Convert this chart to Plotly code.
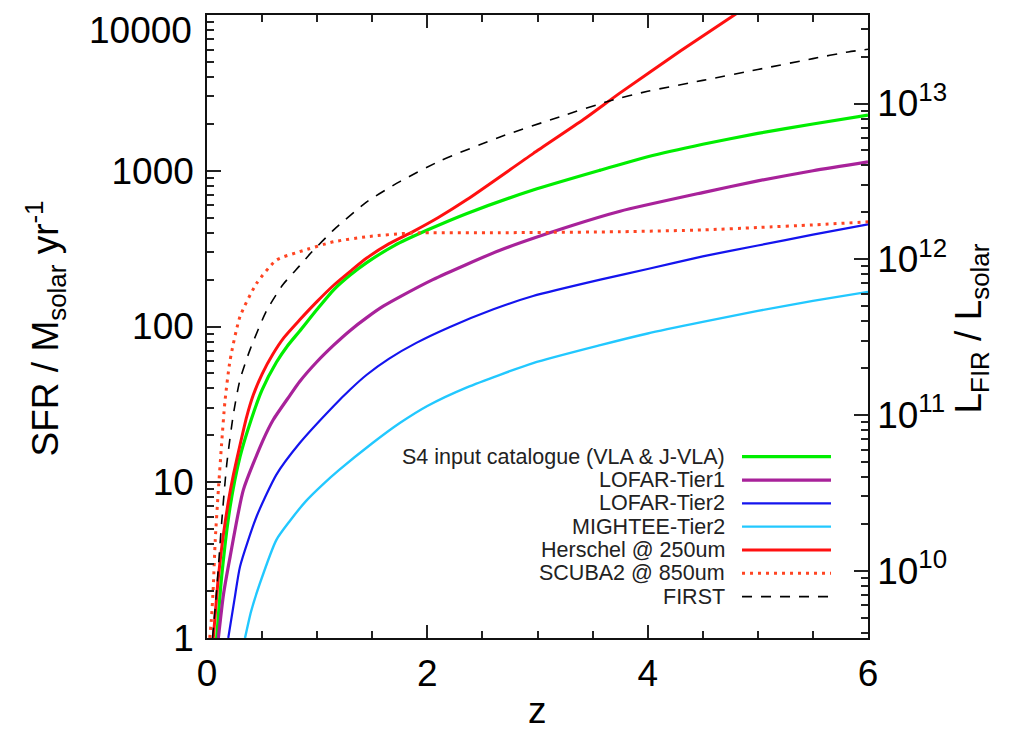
import math
import plotly.graph_objects as go

# ---------------- data ----------------
Z_S4 = [0.088, 0.133, 0.21, 0.30, 0.40, 0.50, 0.63, 0.73, 0.84, 1.0, 1.15, 1.3, 1.45, 1.7, 2.0, 2.36, 2.96, 3.57, 4.0, 4.5, 5.0, 5.5, 6.0]
SFR_S4 = [1.0, 2.48, 6.98, 14.6, 25.1, 39.2, 58.9, 75.0, 93.3, 129, 172, 214, 257, 331, 416, 532, 752, 1009, 1230, 1479, 1738, 1995, 2275]

Z_T1 = [0.103, 0.15, 0.21, 0.33, 0.51, 0.60, 0.75, 0.84, 1.0, 1.15, 1.3, 1.45, 1.6, 1.75, 2.05, 2.66, 3.3, 3.75, 4.5, 5.0, 5.5, 6.0]
SFR_T1 = [1.0, 1.91, 3.33, 8.93, 18.7, 25.1, 35.9, 44.2, 59.6, 75.9, 94.4, 114, 135, 155, 200, 309, 442, 550, 724, 861, 1000, 1140]

Z_T2 = [0.193, 0.25, 0.30, 0.45, 0.63, 0.84, 1.15, 1.3, 1.45, 1.65, 1.9, 2.2, 2.6, 2.96, 3.57, 4.0, 4.5, 5.0, 5.5, 6.0]
SFR_T2 = [1.0, 1.78, 2.88, 6.03, 11.2, 17.8, 30.9, 39.4, 49.0, 62.0, 78.5, 99.0, 129, 157, 200, 234, 282, 331, 389, 453]

Z_MIG = [0.345, 0.40, 0.48, 0.63, 0.75, 0.90, 1.05, 1.2, 1.5, 1.75, 2.0, 2.36, 2.96, 3.57, 4.0, 4.5, 5.0, 5.5, 6.0]
SFR_MIG = [1.0, 1.48, 2.24, 4.27, 5.62, 7.59, 9.66, 12.0, 17.8, 24.0, 30.9, 40.7, 58.2, 75.9, 90.2, 107, 126, 146, 167]

Z_HER = [0.057, 0.08, 0.10, 0.125, 0.15, 0.20, 0.24, 0.30, 0.36, 0.42, 0.50, 0.60, 0.70, 0.84, 1.0, 1.15, 1.3, 1.45, 1.65, 1.87, 2.1, 2.36, 2.96, 3.42, 3.75, 4.30, 4.85]
SFR_HER = [1.0, 1.58, 2.34, 3.39, 4.68, 7.94, 11.2, 17.4, 26.3, 36.3, 49.5, 66.8, 85.1, 110, 145, 184, 226, 275, 339, 407, 501, 653, 1288, 2138, 3162, 5888, 10715]

Z_SCU = [0.018, 0.04, 0.057, 0.075, 0.103, 0.133, 0.163, 0.21, 0.30, 0.45, 0.63, 0.84, 1.15, 1.45, 1.85, 2.66, 3.75, 4.5, 5.0, 5.5, 6.0]
SFR_SCU = [0.89, 1.32, 2.14, 4.27, 8.91, 17.8, 33.1, 61.0, 116, 189, 267, 302, 350, 377, 398, 400, 406, 417, 432, 449, 470]

Z_FIRST = [0.05, 0.088, 0.133, 0.18, 0.24, 0.30, 0.39, 0.54, 0.69, 0.84, 0.94, 1.15, 1.45, 1.75, 2.12, 2.66, 3.2, 3.66, 4.0, 4.5, 5.0, 5.5, 5.82, 6.0]
SFR_FIRST = [1.0, 2.04, 5.50, 13.2, 27.5, 45.7, 70.8, 126, 186, 245, 295, 417, 631, 851, 1161, 1648, 2218, 2818, 3236, 3802, 4467, 5248, 5794, 6026]

LFIR_PER_SFR = 3.7e9   # L_FIR / L_solar per (M_solar / yr)

SERIES_NAMES = ["S4 input catalogue (VLA & J-VLA)", "LOFAR-Tier1", "LOFAR-Tier2",
                "MIGHTEE-Tier2", "Herschel @ 250um", "SCUBA2 @ 850um", "FIRST"]

X_TICKS = [0, 2, 4, 6]
Y_TICKS = [1, 10, 100, 1000, 10000]
Y_TICK_TEXT = ["1", "10", "100", "1000", ""]   # top label drawn separately (kept inside the page)
Y_TOP_LABEL = "10000"
Y2_TICKS = [1e10, 1e11, 1e12, 1e13]
Y2_TICK_TEXT = ["10<sup>10</sup>", "10<sup>11</sup>", "10<sup>12</sup>", "10<sup>13</sup>"]

# ---------------- styling ----------------
FONT = "Liberation Sans, Arial, Helvetica, sans-serif"
STYLES = [
    ("#00EE00", 3.2, "solid"),
    ("#A8229A", 3.2, "solid"),
    ("#1414EE", 2.2, "solid"),
    ("#22C8FF", 2.4, "solid"),
    ("#FF1010", 3.0, "solid"),
    ("#FF4422", 3.0, "3px,5px"),
    ("#000000", 1.6, "10px,9px"),
]
DATA = [(Z_S4, SFR_S4), (Z_T1, SFR_T1), (Z_T2, SFR_T2), (Z_MIG, SFR_MIG),
        (Z_HER, SFR_HER), (Z_SCU, SFR_SCU), (Z_FIRST, SFR_FIRST)]

fig = go.Figure()
for name, (zz, ss), (col, w, dash) in zip(SERIES_NAMES, DATA, STYLES):
    fig.add_trace(go.Scatter(x=zz, y=ss, mode="lines", name=name,
                             line=dict(color=col, width=w, dash=dash, shape="spline", smoothing=0.6),
                             showlegend=False, hoverinfo="skip"))

# invisible copy on the L_FIR axis so that the right axis is drawn
fig.add_trace(go.Scatter(x=Z_S4, y=[s * LFIR_PER_SFR for s in SFR_S4], yaxis="y2",
                         mode="lines", line=dict(width=0), opacity=0,
                         showlegend=False, hoverinfo="skip"))

minor_y = [k * 10 ** d for d in range(0, 4) for k in range(2, 10)]
minor_y2 = [k * 10 ** d for d in range(9, 14) for k in range(2, 10)]
minor_x = [0.5, 1, 1.5, 2.5, 3, 3.5, 4.5, 5, 5.5]

axis_common = dict(showgrid=False, zeroline=False, showline=True, linecolor="#111",
                   linewidth=1.5, ticks="inside", tickcolor="#222", tickwidth=1.5,
                   automargin=False,
                   tickfont=dict(family=FONT, size=37, color="black"))

# the page body adds an 8px offset, so the figure is 8px smaller with 8px less margin
fig.update_layout(
    width=1001, height=723,
    margin=dict(l=199, r=141, t=7, b=93, autoexpand=False),
    paper_bgcolor="white", plot_bgcolor="white",
    showlegend=False,
    xaxis=dict(range=[0, 6], tickmode="array", tickvals=X_TICKS, ticklen=13,
               mirror="ticks", ticklabelstandoff=2,
               minor=dict(tickmode="array", tickvals=minor_x, ticks="inside", ticklen=7,
                          tickcolor="#222", tickwidth=1.5, showgrid=False),
               **axis_common),
    yaxis=dict(type="log", range=[0, 4], tickmode="array", tickvals=Y_TICKS,
               ticktext=Y_TICK_TEXT, ticklen=14, ticklabelstandoff=4,
               minor=dict(tickmode="array", tickvals=minor_y, ticks="inside", ticklen=7,
                          tickcolor="#222", tickwidth=1.5, showgrid=False),
               **axis_common),
    yaxis2=dict(type="log", overlaying="y", side="right",
                range=[math.log10(LFIR_PER_SFR), math.log10(1e4 * LFIR_PER_SFR)],
                tickmode="array", tickvals=Y2_TICKS, ticktext=Y2_TICK_TEXT,
                ticklen=14, ticklabelstandoff=0,
                minor=dict(tickmode="array", tickvals=minor_y2, ticks="inside", ticklen=7,
                           tickcolor="#222", tickwidth=1.5, showgrid=False),
                **axis_common),
)

# top tick label of the SFR axis
fig.add_annotation(text=Y_TOP_LABEL, xref="paper", yref="paper", x=-0.019, y=1.0117,
                   xanchor="right", yanchor="top", showarrow=False,
                   font=dict(family=FONT, size=37, color="black"))

# axis titles
fig.add_annotation(text="SFR / M<sub>solar</sub> yr<sup>-1</sup>", xref="paper", yref="paper",
                   x=-0.245, y=0.497, xanchor="center", yanchor="middle", textangle=-90,
                   showarrow=False, font=dict(family=FONT, size=37, color="black"))
fig.add_annotation(text="L<sub>FIR</sub> / L<sub>solar</sub>", xref="paper", yref="paper",
                   x=1.156, y=0.497, xanchor="center", yanchor="middle", textangle=-90,
                   showarrow=False, font=dict(family=FONT, size=37, color="black"))
fig.add_annotation(text="z", xref="paper", yref="paper", x=0.5, y=-0.117,
                   xanchor="center", yanchor="middle", showarrow=False,
                   font=dict(family=FONT, size=37, color="black"))

# legend (text right-aligned, sample line to the right)
LEG_TOP = 0.291
LEG_STEP = 0.03743
for i, (name, (col, w, dash)) in enumerate(zip(SERIES_NAMES, STYLES)):
    yy = LEG_TOP - i * LEG_STEP
    fig.add_annotation(text=name, xref="paper", yref="paper", x=0.7867, y=yy,
                       xanchor="right", yanchor="middle", showarrow=False,
                       font=dict(family=FONT, size=21.5, color="#222"))
    fig.add_shape(type="line", xref="paper", yref="paper", x0=0.8094, x1=0.944,
                  y0=yy, y1=yy, line=dict(color=col, width=w, dash=dash))

fig.write_html("out.html")
